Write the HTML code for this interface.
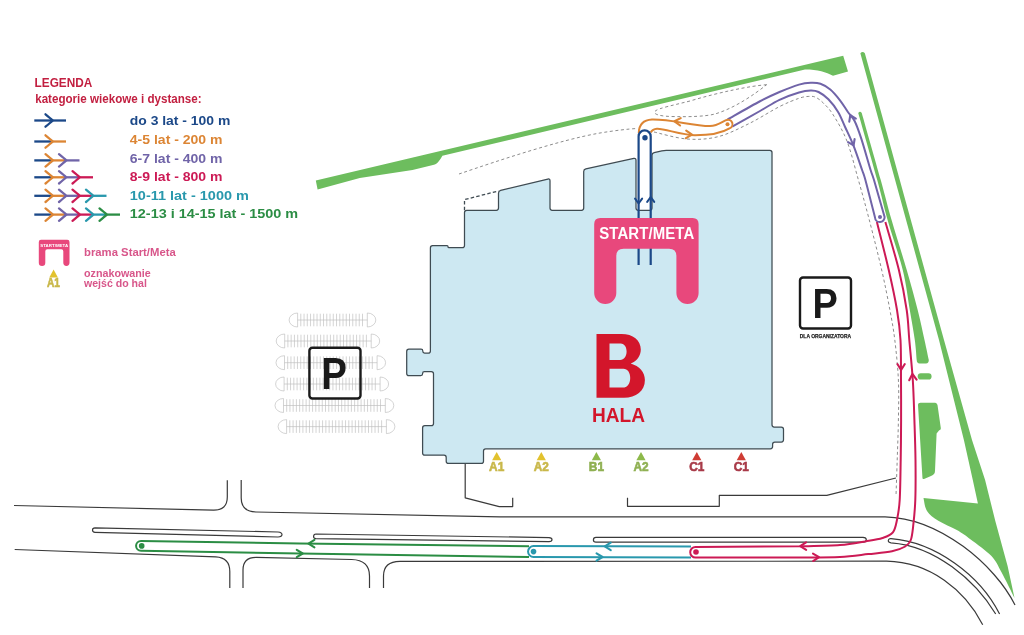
<!DOCTYPE html><html><head><meta charset="utf-8"><style>html,body{margin:0;padding:0;background:#fff;overflow:hidden}svg{display:block;will-change:transform}text{font-family:"Liberation Sans", sans-serif}</style></head><body>
<svg width="1024" height="635" viewBox="0 0 1024 635">
<rect width="1024" height="635" fill="#fff"/>
<g fill="#6dbd5e">
<path d="M315.8,180.4 L843.2,55.7 L848,71.4 L833,75.8 C826,72 818,69.5 805,69.5 L442.4,155.8 C440,160 438,163.5 434,164.8 L412.5,170 L359.8,178 L317.6,189.6 Z"/>
<path d="M860.35,53.2 Q862.6,50.6 864.85,53.2 L905.3,200 L944,340 L972,440 L985.1,480 L995.3,521 L1007.6,566 L1014.5,598 C1012.33,593.70 1005.38,579.23 1001.50,572.20 C997.62,565.17 996.33,561.27 991.20,555.80 C986.07,550.33 976.43,543.70 970.70,539.40 C964.97,535.10 962.20,533.10 956.80,530.00 C951.40,526.90 943.27,523.98 938.30,520.80 C933.33,517.62 929.47,514.68 927.00,510.90 C924.53,507.12 924.08,500.23 923.50,498.10 L977.9,503.6 L972.8,480 L963.9,440 L939,340 L900.6,200 Z"/>
<path d="M858.25,113.00 C861.42,124.17 872.36,162.17 877.25,180.00 C882.14,197.83 883.35,205.00 887.60,220.00 C891.85,235.00 899.05,255.00 902.75,270.00 C906.45,285.00 907.79,298.33 909.80,310.00 C911.81,321.67 913.65,331.67 914.80,340.00 C915.95,348.33 916.38,356.67 916.70,360.00 Q916.8,363.4 919.5,363.4 L926,363.4 Q928.8,363.4 928.8,360 C928.08,356.67 926.35,348.33 924.50,340.00 C922.65,331.67 920.66,321.67 917.70,310.00 C914.74,298.33 911.10,285.00 906.75,270.00 C902.40,255.00 895.93,235.00 891.60,220.00 C887.27,205.00 885.73,197.83 880.75,180.00 C875.77,162.17 864.92,124.17 861.75,113.00 Q860,110.3 858.25,113 Z"/>
<rect x="917.7" y="373.3" width="13.9" height="6.3" rx="3.1"/>
<path d="M918,405 C918,403.5 919,402.8 920.5,402.8 L935,402.8 C936.5,402.8 937,404 937.5,405 L940.8,428 C941,429.5 940,430 939,430.5 L936.6,433.5 L935,471 C935,474 933,475 931,476 L924,479 C922.5,479.5 922.4,478 922.4,477 Z"/>
</g>
<g fill="none" stroke="#666" stroke-width="0.75" stroke-dasharray="3 2.6">
<path d="M459,174 C500,160 560,140 600,133 C615,130.5 628,129 637,128.5"/>
<path d="M654.00,132.00 C659.48,133.17 676.23,138.22 686.90,139.00 C697.57,139.78 707.58,139.30 718.00,136.70 C728.42,134.10 739.15,128.42 749.40,123.40 C759.65,118.38 771.23,110.78 779.50,106.60 C787.77,102.42 794.12,100.00 799.00,98.30 C803.88,96.60 806.02,96.57 808.80,96.40 C811.58,96.23 813.25,96.17 815.70,97.30 C818.15,98.43 820.58,100.27 823.50,103.20 C826.42,106.13 829.28,108.57 833.20,114.90 C837.12,121.23 842.80,130.35 847.00,141.20 C851.20,152.05 854.68,166.87 858.40,180.00 C862.12,193.13 865.42,205.00 869.30,220.00 C873.18,235.00 878.27,255.00 881.70,270.00 C885.13,285.00 887.72,298.33 889.90,310.00 C892.08,321.67 893.38,328.33 894.80,340.00 C896.22,351.67 897.80,366.67 898.40,380.00 C899.00,393.33 898.60,406.67 898.40,420.00 C898.20,433.33 897.60,447.35 897.20,460.00 C896.80,472.65 896.20,489.92 896.00,495.90"/>
<path d="M766.6,84.7 C750,86 720,92 690,101 C670,106 660,108 656,110.5 C652,113 656,116 671,116.5 C690,117 705,116.5 715,114 C735,108 755,94 766.6,84.7"/>
</g>
<g fill="none" stroke="#3a3a3a" stroke-width="1.2" stroke-linejoin="round">
<path d="M14,505.5 L213.3,510.1 Q227.3,510.4 227.3,497 L227.3,480.2"/>
<path d="M241.2,480 L241.2,498 Q241.2,511.5 256,512 L500,516.8 L885,516.8 C940,518 995,565 1015,605"/>
<path d="M14.7,549.5 L215.8,556.8 Q229.8,557.5 229.8,571.6 L229.8,588"/>
<path d="M243,588 L243,570 Q243,557.4 256,557.4 L351.7,559.5 Q369.5,560 369.5,576 L369.5,588"/>
<path d="M383.5,588 L383.5,576 Q383.5,561.3 400,561.3 L886.6,561.2 C930,562 965,590 982.7,624.7"/>
<path d="M95,527.8 L278,532 Q282,532.3 282,534.6 Q282,537 278,537 L95,532.3 Q92.5,532.2 92.5,530 Q92.5,527.8 95,527.8 Z"/>
<path d="M316,534 L549,537.6 Q552,537.8 552,539.6 Q552,541.7 549,541.7 L316,538.6 Q313.6,538.5 313.6,536.4 Q313.6,534 316,534 Z"/>
<path d="M596,537.4 L863,537.3 Q866.3,537.4 866.3,539.8 Q866.3,542.2 863,542.2 L596,542.2 Q593.4,542.2 593.4,540 Q593.4,537.4 596,537.4 Z"/>
<path d="M891,538.6 C935,542 980,575 999.6,614 M995.7,614 C975,580 935,546 891,542.8 Q888.3,542.5 888.3,540.8 Q888.3,538.5 891,538.6"/>
<path d="M465.2,463.8 L465.2,497.8 L499.2,506.6 L512.7,506.6 L512.7,497.8"/>
<path d="M627.5,497.8 L627.5,506.3 L719.3,506.3 L719.3,495.4 L826.8,495.4 L895.9,478"/>
</g>
<path d="M432.60,245.70 L447.10,245.70 Q448.00,245.70 448.00,246.60 L448.00,246.80 Q448.00,247.70 448.90,247.70 L462.30,247.70 Q464.50,247.70 464.50,245.50 L464.50,212.50 Q464.50,210.30 466.70,210.30 L496.30,210.30 Q498.50,210.30 498.50,208.10 L498.50,193.20 Q498.50,191.00 500.64,190.48 L547.86,179.02 Q550.00,178.50 550.00,180.70 L550.00,208.10 Q550.00,210.30 552.20,210.30 L581.50,210.30 Q583.70,210.30 583.70,208.10 L583.70,171.50 Q583.70,169.30 585.85,168.84 L633.85,158.46 Q636.00,158.00 636.00,160.20 L636.00,208.10 Q636.00,210.30 638.20,210.30 L649.80,210.30 Q652.00,210.30 652.00,208.10 L652.00,155.20 Q652.00,153.00 654.15,152.53 L661.85,150.87 Q664.00,150.40 666.20,150.40 L769.80,150.40 Q772.00,150.40 772.00,152.60 L772.00,424.80 Q772.00,427.00 774.20,427.00 L781.30,427.00 Q783.50,427.00 783.50,429.20 L783.50,439.80 Q783.50,442.00 781.30,442.00 L774.80,442.00 Q772.60,442.00 772.60,444.20 L772.60,446.60 Q772.60,448.80 770.40,448.80 L485.70,448.80 Q483.50,448.80 483.50,451.00 L483.50,461.20 Q483.50,463.40 481.30,463.40 L448.40,463.40 Q446.20,463.40 446.20,461.20 L446.20,457.40 Q446.20,455.20 444.00,455.20 L424.80,455.20 Q422.60,455.20 422.60,453.00 L422.60,427.90 Q422.60,425.70 424.80,425.70 L431.30,425.70 Q433.50,425.70 433.50,423.50 L433.50,373.80 Q433.50,371.60 431.30,371.60 L424.40,371.60 Q422.60,371.60 422.60,373.40 L422.60,373.80 Q422.60,375.60 420.80,375.60 L408.90,375.60 Q406.70,375.60 406.70,373.40 L406.70,351.40 Q406.70,349.20 408.90,349.20 L421.05,349.20 Q422.80,349.20 422.80,350.95 L422.80,351.35 Q422.80,353.10 424.56,353.10 L428.20,353.10 Q430.40,353.10 430.40,350.90 L430.40,247.90 Q430.40,245.70 432.60,245.70 Z" fill="#cde8f2" stroke="#3f4b52" stroke-width="1.25" stroke-linejoin="round"/>
<path d="M464.5,210.3 L464.5,199.6 L498.5,191" fill="none" stroke="#3f4b52" stroke-width="1.3" stroke-dasharray="3.5 2.2"/>
<g fill="none" stroke="#bcbcbc" stroke-width="0.65">
<path d="M297.6,313 A8.5,7 0 0 0 297.6,327 Z M367.3,313 A8.5,7 0 0 1 367.3,327 Z M297.6,320 L367.3,320 M300.80,313.7 L300.80,326.3 M304.05,313.7 L304.05,326.3 M307.29,313.7 L307.29,326.3 M310.54,313.7 L310.54,326.3 M313.79,313.7 L313.79,326.3 M317.04,313.7 L317.04,326.3 M320.28,313.7 L320.28,326.3 M323.53,313.7 L323.53,326.3 M326.78,313.7 L326.78,326.3 M330.03,313.7 L330.03,326.3 M333.27,313.7 L333.27,326.3 M336.52,313.7 L336.52,326.3 M339.77,313.7 L339.77,326.3 M343.02,313.7 L343.02,326.3 M346.26,313.7 L346.26,326.3 M349.51,313.7 L349.51,326.3 M352.76,313.7 L352.76,326.3 M356.01,313.7 L356.01,326.3 M359.25,313.7 L359.25,326.3 M362.50,313.7 L362.50,326.3"/>
<path d="M284.7,334 A8.5,7 0 0 0 284.7,348 Z M371.2,334 A8.5,7 0 0 1 371.2,348 Z M284.7,341 L371.2,341 M287.90,334.7 L287.90,347.3 M291.17,334.7 L291.17,347.3 M294.44,334.7 L294.44,347.3 M297.71,334.7 L297.71,347.3 M300.98,334.7 L300.98,347.3 M304.25,334.7 L304.25,347.3 M307.52,334.7 L307.52,347.3 M310.80,334.7 L310.80,347.3 M314.07,334.7 L314.07,347.3 M317.34,334.7 L317.34,347.3 M320.61,334.7 L320.61,347.3 M323.88,334.7 L323.88,347.3 M327.15,334.7 L327.15,347.3 M330.42,334.7 L330.42,347.3 M333.69,334.7 L333.69,347.3 M336.96,334.7 L336.96,347.3 M340.23,334.7 L340.23,347.3 M343.50,334.7 L343.50,347.3 M346.77,334.7 L346.77,347.3 M350.05,334.7 L350.05,347.3 M353.32,334.7 L353.32,347.3 M356.59,334.7 L356.59,347.3 M359.86,334.7 L359.86,347.3 M363.13,334.7 L363.13,347.3 M366.40,334.7 L366.40,347.3"/>
<path d="M284.5,355.7 A8.5,7 0 0 0 284.5,369.7 Z M377.1,355.7 A8.5,7 0 0 1 377.1,369.7 Z M284.5,362.7 L377.1,362.7 M287.70,356.4 L287.70,369.0 M290.95,356.4 L290.95,369.0 M294.21,356.4 L294.21,369.0 M297.46,356.4 L297.46,369.0 M300.72,356.4 L300.72,369.0 M303.97,356.4 L303.97,369.0 M307.22,356.4 L307.22,369.0 M310.48,356.4 L310.48,369.0 M313.73,356.4 L313.73,369.0 M316.98,356.4 L316.98,369.0 M320.24,356.4 L320.24,369.0 M323.49,356.4 L323.49,369.0 M326.75,356.4 L326.75,369.0 M330.00,356.4 L330.00,369.0 M333.25,356.4 L333.25,369.0 M336.51,356.4 L336.51,369.0 M339.76,356.4 L339.76,369.0 M343.02,356.4 L343.02,369.0 M346.27,356.4 L346.27,369.0 M349.52,356.4 L349.52,369.0 M352.78,356.4 L352.78,369.0 M356.03,356.4 L356.03,369.0 M359.28,356.4 L359.28,369.0 M362.54,356.4 L362.54,369.0 M365.79,356.4 L365.79,369.0 M369.05,356.4 L369.05,369.0 M372.30,356.4 L372.30,369.0"/>
<path d="M284.1,377 A8.5,7 0 0 0 284.1,391 Z M380.1,377 A8.5,7 0 0 1 380.1,391 Z M284.1,384 L380.1,384 M287.30,377.7 L287.30,390.3 M290.56,377.7 L290.56,390.3 M293.82,377.7 L293.82,390.3 M297.08,377.7 L297.08,390.3 M300.34,377.7 L300.34,390.3 M303.60,377.7 L303.60,390.3 M306.86,377.7 L306.86,390.3 M310.11,377.7 L310.11,390.3 M313.37,377.7 L313.37,390.3 M316.63,377.7 L316.63,390.3 M319.89,377.7 L319.89,390.3 M323.15,377.7 L323.15,390.3 M326.41,377.7 L326.41,390.3 M329.67,377.7 L329.67,390.3 M332.93,377.7 L332.93,390.3 M336.19,377.7 L336.19,390.3 M339.45,377.7 L339.45,390.3 M342.71,377.7 L342.71,390.3 M345.97,377.7 L345.97,390.3 M349.23,377.7 L349.23,390.3 M352.49,377.7 L352.49,390.3 M355.74,377.7 L355.74,390.3 M359.00,377.7 L359.00,390.3 M362.26,377.7 L362.26,390.3 M365.52,377.7 L365.52,390.3 M368.78,377.7 L368.78,390.3 M372.04,377.7 L372.04,390.3 M375.30,377.7 L375.30,390.3"/>
<path d="M283.5,398.5 A8.5,7 0 0 0 283.5,412.5 Z M385.3,398.5 A8.5,7 0 0 1 385.3,412.5 Z M283.5,405.5 L385.3,405.5 M286.70,399.2 L286.70,411.8 M289.93,399.2 L289.93,411.8 M293.17,399.2 L293.17,411.8 M296.40,399.2 L296.40,411.8 M299.64,399.2 L299.64,411.8 M302.87,399.2 L302.87,411.8 M306.11,399.2 L306.11,411.8 M309.34,399.2 L309.34,411.8 M312.58,399.2 L312.58,411.8 M315.81,399.2 L315.81,411.8 M319.04,399.2 L319.04,411.8 M322.28,399.2 L322.28,411.8 M325.51,399.2 L325.51,411.8 M328.75,399.2 L328.75,411.8 M331.98,399.2 L331.98,411.8 M335.22,399.2 L335.22,411.8 M338.45,399.2 L338.45,411.8 M341.69,399.2 L341.69,411.8 M344.92,399.2 L344.92,411.8 M348.16,399.2 L348.16,411.8 M351.39,399.2 L351.39,411.8 M354.62,399.2 L354.62,411.8 M357.86,399.2 L357.86,411.8 M361.09,399.2 L361.09,411.8 M364.33,399.2 L364.33,411.8 M367.56,399.2 L367.56,411.8 M370.80,399.2 L370.80,411.8 M374.03,399.2 L374.03,411.8 M377.27,399.2 L377.27,411.8 M380.50,399.2 L380.50,411.8"/>
<path d="M286.6,419.6 A8.5,7 0 0 0 286.6,433.6 Z M386.4,419.6 A8.5,7 0 0 1 386.4,433.6 Z M286.6,426.6 L386.4,426.6 M289.80,420.3 L289.80,432.90000000000003 M293.08,420.3 L293.08,432.90000000000003 M296.36,420.3 L296.36,432.90000000000003 M299.64,420.3 L299.64,432.90000000000003 M302.91,420.3 L302.91,432.90000000000003 M306.19,420.3 L306.19,432.90000000000003 M309.47,420.3 L309.47,432.90000000000003 M312.75,420.3 L312.75,432.90000000000003 M316.03,420.3 L316.03,432.90000000000003 M319.31,420.3 L319.31,432.90000000000003 M322.59,420.3 L322.59,432.90000000000003 M325.86,420.3 L325.86,432.90000000000003 M329.14,420.3 L329.14,432.90000000000003 M332.42,420.3 L332.42,432.90000000000003 M335.70,420.3 L335.70,432.90000000000003 M338.98,420.3 L338.98,432.90000000000003 M342.26,420.3 L342.26,432.90000000000003 M345.54,420.3 L345.54,432.90000000000003 M348.81,420.3 L348.81,432.90000000000003 M352.09,420.3 L352.09,432.90000000000003 M355.37,420.3 L355.37,432.90000000000003 M358.65,420.3 L358.65,432.90000000000003 M361.93,420.3 L361.93,432.90000000000003 M365.21,420.3 L365.21,432.90000000000003 M368.49,420.3 L368.49,432.90000000000003 M371.76,420.3 L371.76,432.90000000000003 M375.04,420.3 L375.04,432.90000000000003 M378.32,420.3 L378.32,432.90000000000003 M381.60,420.3 L381.60,432.90000000000003"/>
</g>
<rect x="309.4" y="347.8" width="51.1" height="50.69999999999997" rx="3" fill="none" stroke="#1a1a1a" stroke-width="2.4"/>
<text x="321.2" y="388.6" font-size="43.7" font-weight="bold" fill="#1a1a1a" textLength="25.69999999999999" lengthAdjust="spacingAndGlyphs">P</text>
<rect x="800.0" y="277.5" width="51.00000000000009" height="50.99999999999998" rx="3" fill="none" stroke="#1a1a1a" stroke-width="2.4"/>
<text x="812.4" y="318.3" font-size="42.6" font-weight="bold" fill="#1a1a1a" textLength="25.300000000000068" lengthAdjust="spacingAndGlyphs">P</text>
<text x="799.8" y="337.8" font-size="5.6" font-weight="bold" fill="#222" stroke="#222" stroke-width="0.25" textLength="51.3" lengthAdjust="spacingAndGlyphs">DLA ORGANIZATORA</text>
<path fill-rule="evenodd" fill="#d3162b" d="M596.5,333.9 L621.5,333.9 C633,333.9 640.8,340 640.8,349.5 C640.8,356 637,361 630.7,363.4 C639.5,366 644.9,372 644.9,380 C644.9,391 636,397.7 624,397.7 L596.5,397.7 Z M609.5,343.4 L620.7,343.4 C624.5,343.4 626.6,347 626.6,351.6 C626.6,356.5 624,359.9 620.2,359.9 L609.5,359.9 Z M609.5,368.7 L623.5,368.7 C627.5,368.7 630.2,372.5 630.2,378 C630.2,384 627,387.6 623,387.6 L609.5,387.6 Z"/>
<text x="592" y="422.3" font-size="20.9" font-weight="bold" fill="#d3162b" textLength="53" lengthAdjust="spacingAndGlyphs">HALA</text>
<path d="M496.7,452 L501.3,460.3 L492.09999999999997,460.3 Z" fill="#e2c22e"/>
<text x="489.09999999999997" y="471.3" font-size="13" font-weight="bold" fill="#c9b84a" stroke="#c9b84a" stroke-width="0.6" textLength="15.2" lengthAdjust="spacingAndGlyphs">A1</text>
<path d="M541.3,452 L545.9,460.3 L536.6999999999999,460.3 Z" fill="#e2c22e"/>
<text x="533.6999999999999" y="471.3" font-size="13" font-weight="bold" fill="#c9b84a" stroke="#c9b84a" stroke-width="0.6" textLength="15.2" lengthAdjust="spacingAndGlyphs">A2</text>
<path d="M596.4,452 L601.0,460.3 L591.8,460.3 Z" fill="#8db94a"/>
<text x="588.8" y="471.3" font-size="13" font-weight="bold" fill="#8fb052" stroke="#8fb052" stroke-width="0.6" textLength="15.2" lengthAdjust="spacingAndGlyphs">B1</text>
<path d="M641,452 L645.6,460.3 L636.4,460.3 Z" fill="#8db94a"/>
<text x="633.4" y="471.3" font-size="13" font-weight="bold" fill="#8fb052" stroke="#8fb052" stroke-width="0.6" textLength="15.2" lengthAdjust="spacingAndGlyphs">A2</text>
<path d="M696.8,452 L701.4,460.3 L692.1999999999999,460.3 Z" fill="#cf3c34"/>
<text x="689.1999999999999" y="471.3" font-size="13" font-weight="bold" fill="#a83a48" stroke="#a83a48" stroke-width="0.6" textLength="15.2" lengthAdjust="spacingAndGlyphs">C1</text>
<path d="M741.3,452 L745.9,460.3 L736.6999999999999,460.3 Z" fill="#cf3c34"/>
<text x="733.6999999999999" y="471.3" font-size="13" font-weight="bold" fill="#a83a48" stroke="#a83a48" stroke-width="0.6" textLength="15.2" lengthAdjust="spacingAndGlyphs">C1</text>
<path d="M529,546.3 L300,543.6 L141,540.9 A4.95,4.95 0 0 0 141,550.8 L300,553.4 L529,557" fill="none" stroke="#2b8d44" stroke-width="2.0"/>
<circle cx="141.7" cy="545.9" r="2.8" fill="#2b8d44"/>
<path d="M314.44,539.89 L308.50,543.60 L314.44,547.31" fill="none" stroke="#2b8d44" stroke-width="2.1" stroke-linecap="round" stroke-linejoin="round"/>
<path d="M296.76,557.21 L302.70,553.50 L296.76,549.79" fill="none" stroke="#2b8d44" stroke-width="2.1" stroke-linecap="round" stroke-linejoin="round"/>
<path d="M691,546.6 L533.5,546.1 A5.45,5.45 0 0 0 533.5,557 L691,557.4" fill="none" stroke="#2998ad" stroke-width="2.0"/>
<circle cx="533.5" cy="551.6" r="2.8" fill="#2998ad"/>
<path d="M610.74,542.69 L604.80,546.40 L610.74,550.11" fill="none" stroke="#2998ad" stroke-width="2.1" stroke-linecap="round" stroke-linejoin="round"/>
<path d="M596.56,560.71 L602.50,557.00 L596.56,553.29" fill="none" stroke="#2998ad" stroke-width="2.1" stroke-linecap="round" stroke-linejoin="round"/>
<path d="M876.90,222.00 C878.88,230.00 885.40,255.33 888.75,270.00 C892.10,284.67 895.04,298.33 897.00,310.00 C898.96,321.67 899.83,328.33 900.50,340.00 C901.17,351.67 900.90,366.67 901.00,380.00 C901.10,393.33 901.15,406.67 901.10,420.00 C901.05,433.33 900.93,446.67 900.70,460.00 C900.47,473.33 900.30,490.13 899.70,500.00 C899.10,509.87 898.23,513.80 897.10,519.20 C895.97,524.60 895.33,529.27 892.90,532.40 C890.47,535.53 887.07,536.50 882.50,538.00 C877.93,539.50 872.58,540.22 865.50,541.40 C858.42,542.58 850.92,544.28 840.00,545.10 C829.08,545.92 806.67,546.10 800.00,546.30 L695.5,547 A5.3,5.3 0 0 0 695.5,557.6 L800,557.5 C806.67,557.40 828.62,557.47 840.00,556.90 C851.38,556.33 859.63,555.03 868.30,554.10 C876.97,553.17 885.85,552.57 892.00,551.30 C898.15,550.03 902.07,548.38 905.20,546.50 C908.33,544.62 909.47,543.45 910.80,540.00 C912.13,536.55 912.45,532.47 913.20,525.80 C913.95,519.13 914.92,510.97 915.30,500.00 C915.68,489.03 915.65,473.33 915.50,460.00 C915.35,446.67 914.85,433.33 914.40,420.00 C913.95,406.67 913.65,393.33 912.80,380.00 C911.95,366.67 910.32,351.67 909.30,340.00 C908.28,328.33 908.43,321.67 906.70,310.00 C904.97,298.33 902.45,284.67 898.90,270.00 C895.35,255.33 887.65,230.00 885.40,222.00" fill="none" stroke="#cc1a55" stroke-width="2.0"/>
<circle cx="696" cy="552" r="2.8" fill="#cc1a55"/>
<path d="M806.07,542.39 L800.20,546.20 L806.20,549.81" fill="none" stroke="#cc1a55" stroke-width="2.1" stroke-linecap="round" stroke-linejoin="round"/>
<path d="M813.13,561.01 L819.00,557.20 L813.00,553.59" fill="none" stroke="#cc1a55" stroke-width="2.1" stroke-linecap="round" stroke-linejoin="round"/>
<path d="M897.39,364.06 L901.10,370.00 L904.81,364.06" fill="none" stroke="#cc1a55" stroke-width="2.1" stroke-linecap="round" stroke-linejoin="round"/>
<path d="M916.61,379.59 L912.40,374.00 L909.22,380.24" fill="none" stroke="#cc1a55" stroke-width="2.1" stroke-linecap="round" stroke-linejoin="round"/>
<path d="M727.50,119.50 C732.92,116.46 751.33,105.83 760.00,101.25 C768.67,96.67 773.00,94.78 779.50,92.00 C786.00,89.22 793.78,86.15 799.00,84.60 C804.22,83.05 807.22,82.85 810.80,82.70 C814.38,82.55 817.25,82.57 820.50,83.70 C823.75,84.83 827.05,86.73 830.30,89.50 C833.55,92.27 837.07,96.55 840.00,100.30 C842.93,104.05 845.47,108.55 847.90,112.00 C850.33,115.45 852.38,116.60 854.60,121.00 C856.82,125.40 858.53,130.23 861.20,138.40 C863.87,146.57 868.47,163.07 870.60,170.00 C872.73,176.93 871.67,172.17 874.00,180.00 C876.33,187.83 882.83,210.83 884.60,217.00 A4.8,4.8 0 0 1 875,217.5 C873.40,211.25 867.55,187.92 865.40,180.00 C863.25,172.08 864.07,175.68 862.10,170.00 C860.13,164.32 856.43,153.07 853.60,145.90 C850.77,138.73 847.68,132.65 845.10,127.00 C842.52,121.35 840.88,116.62 838.10,112.00 C835.32,107.38 831.65,102.63 828.40,99.30 C825.15,95.97 821.53,93.47 818.60,92.00 C815.67,90.53 814.07,90.42 810.80,90.50 C807.53,90.58 804.22,90.95 799.00,92.50 C793.78,94.05 786.00,96.72 779.50,99.80 C773.00,102.88 767.88,106.53 760.00,111.00 C752.12,115.47 736.83,124.00 732.20,126.60" fill="none" stroke="#7064a8" stroke-width="2.0"/>
<circle cx="880" cy="217" r="2.0" fill="#7064a8"/>
<path d="M855.87,118.55 L850.30,115.20 L849.28,121.62" fill="none" stroke="#7064a8" stroke-width="2.1" stroke-linecap="round" stroke-linejoin="round"/>
<path d="M848.03,142.05 L853.60,145.40 L854.62,138.98" fill="none" stroke="#7064a8" stroke-width="2.1" stroke-linecap="round" stroke-linejoin="round"/>
<path d="M638.8,133 C639,124 644,120 652,119.6 C672,119.2 692,126 710,126 C718,126 723,121 726.5,120 A4.4,4.4 0 0 1 729.5,128.4 C721,133.5 710,135.3 695,135.3 C680,134.8 665,128.5 657,128.8 C654,129 652,130 650.7,132.5" fill="none" stroke="#dc8534" stroke-width="2.0"/>
<circle cx="727.5" cy="124.3" r="2.0" fill="#dc8534"/>
<path d="M680.74,118.12 L674.50,121.30 L680.09,125.51" fill="none" stroke="#dc8534" stroke-width="2.1" stroke-linecap="round" stroke-linejoin="round"/>
<path d="M685.94,138.10 L692.00,134.60 L686.20,130.69" fill="none" stroke="#dc8534" stroke-width="2.1" stroke-linecap="round" stroke-linejoin="round"/>
<path d="M638.6,265 L638.6,136.4 A6.05,6.05 0 0 1 650.7,136.4 L650.7,265" fill="none" stroke="#1b4888" stroke-width="2.2"/>
<circle cx="645" cy="137.7" r="2.7" fill="#1b4888"/>
<path d="M635.07,198.65 L638.60,203.50 L642.13,198.65" fill="none" stroke="#1b4888" stroke-width="2" stroke-linecap="round" stroke-linejoin="round"/>
<path d="M654.23,201.85 L650.70,197.00 L647.17,201.85" fill="none" stroke="#1b4888" stroke-width="2" stroke-linecap="round" stroke-linejoin="round"/>
<path d="M594.2,224 Q594.2,218 600.2,218 L692.6,218 Q698.6,218 698.6,224 L698.6,293 A11.1,11.1 0 0 1 676.4,293 L676.4,256 Q676.4,248.7 669,248.7 L623.6,248.7 Q616.3,248.7 616.3,256 L616.3,293 A11.05,11.05 0 0 1 594.2,293 Z" fill="#e8487c"/>
<text transform="scale(0.88,1)" x="680.91" y="238.7" font-size="17" font-weight="bold" fill="#fff" textLength="107.95" lengthAdjust="spacing">START/META</text>
<text x="34.6" y="87" font-size="12.5" font-weight="bold" fill="#c21f40" textLength="57.7" lengthAdjust="spacingAndGlyphs">LEGENDA</text>
<text x="35.2" y="103" font-size="12" font-weight="bold" fill="#c21f40" textLength="166.4" lengthAdjust="spacingAndGlyphs">kategorie wiekowe i dystanse:</text>
<text x="129.8" y="125.1" font-size="13" font-weight="bold" fill="#1b4888" textLength="100.5" lengthAdjust="spacingAndGlyphs">do 3 lat - 100 m</text>
<path d="M34.3,120.5 L66,120.5" stroke="#1b4888" stroke-width="2.3" fill="none"/>
<path d="M45.5,114.3 Q50.7,118.5 52.7,120.5 Q50.7,122.5 45.5,126.7" stroke="#1b4888" stroke-width="2.3" fill="none" stroke-linecap="round"/>
<text x="129.8" y="143.7" font-size="13" font-weight="bold" fill="#dc8534" textLength="92.7" lengthAdjust="spacingAndGlyphs">4-5 lat - 200 m</text>
<path d="M34.3,141.5 L52.7,141.5" stroke="#1b4888" stroke-width="2.3" fill="none"/>
<path d="M52.7,141.5 L66.0,141.5" stroke="#dc8534" stroke-width="2.3" fill="none"/>
<path d="M45.5,135.3 Q50.7,139.5 52.7,141.5 Q50.7,143.5 45.5,147.7" stroke="#dc8534" stroke-width="2.3" fill="none" stroke-linecap="round"/>
<text x="129.8" y="162.6" font-size="13" font-weight="bold" fill="#7064a8" textLength="92.7" lengthAdjust="spacingAndGlyphs">6-7 lat - 400 m</text>
<path d="M34.3,160.4 L52.7,160.4" stroke="#1b4888" stroke-width="2.3" fill="none"/>
<path d="M52.7,160.4 L66.2,160.4" stroke="#dc8534" stroke-width="2.3" fill="none"/>
<path d="M66.2,160.4 L79.5,160.4" stroke="#7064a8" stroke-width="2.3" fill="none"/>
<path d="M45.5,154.20000000000002 Q50.7,158.4 52.7,160.4 Q50.7,162.4 45.5,166.6" stroke="#dc8534" stroke-width="2.3" fill="none" stroke-linecap="round"/>
<path d="M59.0,154.20000000000002 Q64.2,158.4 66.2,160.4 Q64.2,162.4 59.0,166.6" stroke="#7064a8" stroke-width="2.3" fill="none" stroke-linecap="round"/>
<text x="129.8" y="181.2" font-size="13" font-weight="bold" fill="#cc1a55" textLength="92.7" lengthAdjust="spacingAndGlyphs">8-9 lat - 800 m</text>
<path d="M34.3,177.3 L52.7,177.3" stroke="#1b4888" stroke-width="2.3" fill="none"/>
<path d="M52.7,177.3 L66.2,177.3" stroke="#dc8534" stroke-width="2.3" fill="none"/>
<path d="M66.2,177.3 L79.7,177.3" stroke="#7064a8" stroke-width="2.3" fill="none"/>
<path d="M79.7,177.3 L93.0,177.3" stroke="#cc1a55" stroke-width="2.3" fill="none"/>
<path d="M45.5,171.10000000000002 Q50.7,175.3 52.7,177.3 Q50.7,179.3 45.5,183.5" stroke="#dc8534" stroke-width="2.3" fill="none" stroke-linecap="round"/>
<path d="M59.0,171.10000000000002 Q64.2,175.3 66.2,177.3 Q64.2,179.3 59.0,183.5" stroke="#7064a8" stroke-width="2.3" fill="none" stroke-linecap="round"/>
<path d="M72.5,171.10000000000002 Q77.7,175.3 79.7,177.3 Q77.7,179.3 72.5,183.5" stroke="#cc1a55" stroke-width="2.3" fill="none" stroke-linecap="round"/>
<text x="129.8" y="200.1" font-size="13" font-weight="bold" fill="#2998ad" textLength="119.1" lengthAdjust="spacingAndGlyphs">10-11 lat - 1000 m</text>
<path d="M34.3,195.8 L52.7,195.8" stroke="#1b4888" stroke-width="2.3" fill="none"/>
<path d="M52.7,195.8 L66.2,195.8" stroke="#dc8534" stroke-width="2.3" fill="none"/>
<path d="M66.2,195.8 L79.7,195.8" stroke="#7064a8" stroke-width="2.3" fill="none"/>
<path d="M79.7,195.8 L93.2,195.8" stroke="#cc1a55" stroke-width="2.3" fill="none"/>
<path d="M93.2,195.8 L106.5,195.8" stroke="#2998ad" stroke-width="2.3" fill="none"/>
<path d="M45.5,189.60000000000002 Q50.7,193.8 52.7,195.8 Q50.7,197.8 45.5,202.0" stroke="#dc8534" stroke-width="2.3" fill="none" stroke-linecap="round"/>
<path d="M59.0,189.60000000000002 Q64.2,193.8 66.2,195.8 Q64.2,197.8 59.0,202.0" stroke="#7064a8" stroke-width="2.3" fill="none" stroke-linecap="round"/>
<path d="M72.5,189.60000000000002 Q77.7,193.8 79.7,195.8 Q77.7,197.8 72.5,202.0" stroke="#cc1a55" stroke-width="2.3" fill="none" stroke-linecap="round"/>
<path d="M86.0,189.60000000000002 Q91.2,193.8 93.2,195.8 Q91.2,197.8 86.0,202.0" stroke="#2998ad" stroke-width="2.3" fill="none" stroke-linecap="round"/>
<text x="129.8" y="218.3" font-size="13" font-weight="bold" fill="#2b8d44" textLength="168.3" lengthAdjust="spacingAndGlyphs">12-13 i 14-15 lat - 1500 m</text>
<path d="M34.3,214.6 L52.7,214.6" stroke="#1b4888" stroke-width="2.3" fill="none"/>
<path d="M52.7,214.6 L66.2,214.6" stroke="#dc8534" stroke-width="2.3" fill="none"/>
<path d="M66.2,214.6 L79.7,214.6" stroke="#7064a8" stroke-width="2.3" fill="none"/>
<path d="M79.7,214.6 L93.2,214.6" stroke="#cc1a55" stroke-width="2.3" fill="none"/>
<path d="M93.2,214.6 L106.7,214.6" stroke="#2998ad" stroke-width="2.3" fill="none"/>
<path d="M106.7,214.6 L120.0,214.6" stroke="#2b8d44" stroke-width="2.3" fill="none"/>
<path d="M45.5,208.4 Q50.7,212.6 52.7,214.6 Q50.7,216.6 45.5,220.79999999999998" stroke="#dc8534" stroke-width="2.3" fill="none" stroke-linecap="round"/>
<path d="M59.0,208.4 Q64.2,212.6 66.2,214.6 Q64.2,216.6 59.0,220.79999999999998" stroke="#7064a8" stroke-width="2.3" fill="none" stroke-linecap="round"/>
<path d="M72.5,208.4 Q77.7,212.6 79.7,214.6 Q77.7,216.6 72.5,220.79999999999998" stroke="#cc1a55" stroke-width="2.3" fill="none" stroke-linecap="round"/>
<path d="M86.0,208.4 Q91.2,212.6 93.2,214.6 Q91.2,216.6 86.0,220.79999999999998" stroke="#2998ad" stroke-width="2.3" fill="none" stroke-linecap="round"/>
<path d="M99.5,208.4 Q104.7,212.6 106.7,214.6 Q104.7,216.6 99.5,220.79999999999998" stroke="#2b8d44" stroke-width="2.3" fill="none" stroke-linecap="round"/>
<path d="M38.8,242 Q38.8,239.8 41,239.8 L67.3,239.8 Q69.5,239.8 69.5,242 L69.5,262.8 A3.1,3.1 0 0 1 63.3,262.8 L63.3,251.2 Q63.3,249.2 61.3,249.2 L47.3,249.2 Q45.3,249.2 45.3,251.2 L45.3,262.8 A3.25,3.25 0 0 1 38.8,262.8 Z" fill="#e8487c"/>
<text x="40.3" y="246.6" font-size="4" font-weight="bold" fill="#fff" textLength="27.8" lengthAdjust="spacingAndGlyphs">START/META</text>
<text x="84" y="256.3" font-size="11" font-weight="bold" fill="#d8568a" textLength="91.8" lengthAdjust="spacingAndGlyphs">brama Start/Meta</text>
<path d="M53.6,269.4 L57.9,277.4 L49.3,277.4 Z" fill="#e2c22e"/>
<text x="47" y="287.4" font-size="12.4" font-weight="bold" fill="#c9b84a" stroke="#c9b84a" stroke-width="0.6" textLength="13" lengthAdjust="spacingAndGlyphs">A1</text>
<text x="84" y="277" font-size="11" font-weight="bold" fill="#d8568a" textLength="66.8" lengthAdjust="spacingAndGlyphs">oznakowanie</text>
<text x="84" y="287.2" font-size="11" font-weight="bold" fill="#d8568a" textLength="62.9" lengthAdjust="spacingAndGlyphs">wejść do hal</text>
</svg></body></html>
